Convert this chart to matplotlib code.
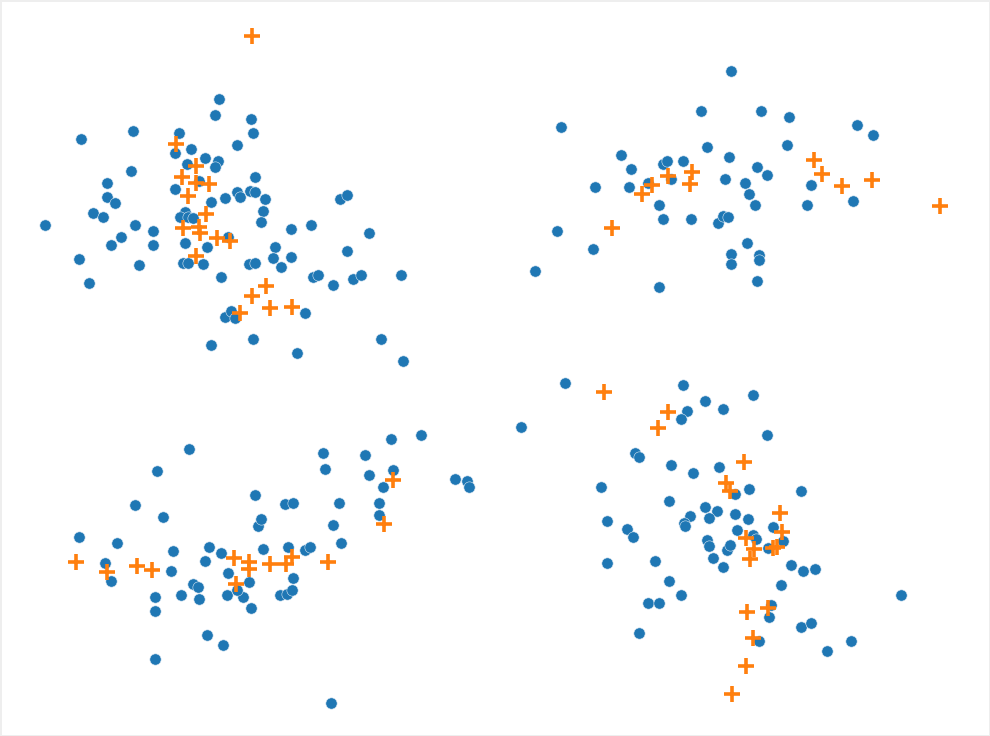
import numpy as np
import matplotlib
matplotlib.use("Agg")
from matplotlib import pyplot as plt

# point positions (x to the right, y downwards)
blue_x = [219, 215, 81, 133, 179, 175, 191, 237, 205, 218, 215, 187, 131, 107, 107, 115, 93, 103, 45, 135,
          153, 153, 121, 111, 79, 89, 139, 175, 199, 211, 225, 237, 240, 250, 255, 185, 180, 188, 193, 185,
          207, 228, 183, 188, 203, 221, 225, 231, 235, 211, 251, 253, 255, 265, 263, 261, 291, 311, 340, 347,
          369, 275, 273, 281, 291, 249, 255, 313, 318, 333, 353, 361, 347, 401, 305, 253, 297, 381, 403,
          731, 701, 561, 707, 621, 631, 663, 667, 683, 729, 725, 745, 749, 595, 629, 648, 671, 659, 663, 691,
          718, 723, 728, 747, 731, 731, 557, 593, 535, 659, 761, 789, 857, 873, 787, 757, 767, 755, 811,
          807, 853, 759, 759, 757,
          189, 157, 135, 163, 79, 117, 105, 111, 173, 171, 209, 221, 205, 228, 155, 155, 181, 193, 198, 199,
          227, 243, 237, 249, 251, 207, 223, 155, 263, 288, 305, 310, 293, 280, 287, 292, 258, 261, 255, 285,
          293, 339, 333, 341, 323, 325, 365, 369, 393, 383, 379, 379, 391, 421, 455, 467, 469, 331,
          565, 521, 683, 705, 723, 687, 681, 753, 635, 639, 671, 693, 719, 601, 669, 705, 717, 709, 690, 684,
          685, 735, 748, 735, 749, 737, 607, 627, 633, 707, 709, 727, 730, 713, 723, 607, 655, 669, 681, 648,
          659, 639, 767, 801, 773, 753, 756, 783, 768, 791, 803, 815, 781, 901, 771, 769, 801, 811, 759, 827,
          851]
blue_y = [99, 115, 139, 131, 133, 153, 149, 145, 158, 161, 167, 164, 171, 183, 197, 203, 213, 217, 225, 225,
          231, 245, 237, 245, 259, 283, 265, 189, 181, 202, 198, 192, 197, 191, 192, 212, 217, 217, 218, 243,
          247, 237, 263, 263, 264, 277, 317, 311, 318, 345, 119, 133, 177, 199, 211, 222, 229, 225, 199, 195,
          233, 247, 258, 267, 257, 264, 263, 277, 275, 285, 279, 275, 251, 275, 313, 339, 353, 339, 361,
          71, 111, 127, 147, 155, 169, 164, 161, 161, 157, 179, 183, 194, 187, 187, 183, 179, 205, 219, 219,
          223, 216, 217, 243, 254, 264, 231, 249, 271, 287, 111, 117, 125, 135, 145, 167, 175, 205, 185,
          205, 201, 255, 260, 281,
          449, 471, 505, 517, 537, 543, 563, 581, 551, 571, 547, 553, 561, 573, 597, 611, 595, 584, 587, 599,
          595, 597, 590, 582, 608, 635, 645, 659, 549, 547, 550, 547, 578, 595, 594, 590, 526, 519, 495, 504,
          503, 503, 525, 543, 453, 469, 455, 475, 470, 487, 503, 515, 439, 435, 479, 481, 487, 703,
          383, 427, 385, 401, 409, 411, 419, 395, 453, 457, 465, 473, 467, 487, 501, 507, 511, 518, 516, 523,
          526, 514, 519, 494, 489, 530, 521, 529, 537, 540, 546, 550, 545, 558, 567, 563, 561, 581, 595, 603,
          603, 633, 435, 491, 527, 535, 539, 541, 548, 565, 571, 569, 585, 595, 605, 617, 627, 623, 641, 651,
          641]

orange_x = [176, 196, 182, 196, 209, 188, 206, 183, 199, 200, 217, 230, 196, 252, 266, 252, 240, 270, 292,
            692, 690, 668, 652, 642, 612, 814, 822, 842, 872, 940,
            76, 107, 137, 152, 234, 249, 249, 236, 270, 286, 292, 328, 393, 384,
            604, 668, 658, 744, 726, 730, 780, 782, 746, 754, 750, 773, 777, 747, 768, 753, 746, 732]
orange_y = [144, 166, 177, 183, 184, 196, 214, 228, 227, 233, 238, 241, 256, 36, 286, 296, 313, 308, 307,
            172, 184, 176, 185, 194, 228, 160, 174, 186, 180, 206,
            562, 572, 566, 570, 558, 562, 569, 584, 564, 564, 557, 562, 480, 524,
            392, 412, 428, 462, 483, 491, 513, 532, 538, 549, 559, 548, 547, 612, 608, 638, 666, 694]

fig = plt.figure(figsize=(9.9, 7.36), dpi=100)
fig.patch.set_edgecolor('#eeeeee')
fig.patch.set_linewidth(2)
ax = fig.add_axes([0, 0, 1, 1])

ax.scatter(blue_x, blue_y, s=66, color='#1f77b4', edgecolors='#dbe8f3', linewidths=0.4, zorder=2)
ax.scatter(orange_x, orange_y, s=130, marker='+', color='#ff7f0e', linewidths=2.6, zorder=3)

ax.set_xlim(0, 990)
ax.set_ylim(736, 0)
ax.axis('off')

fig.savefig('out.png', dpi=100, edgecolor=fig.get_edgecolor())
